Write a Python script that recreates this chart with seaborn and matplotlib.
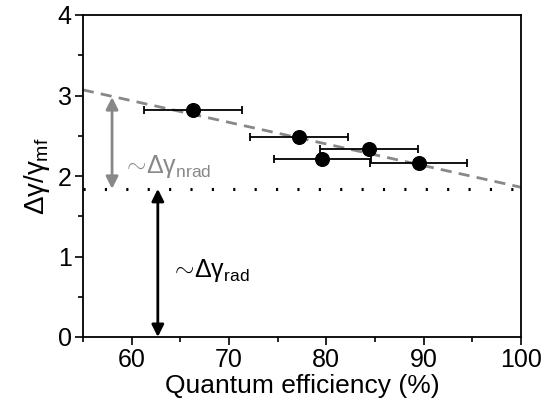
import matplotlib
matplotlib.use("Agg")
import matplotlib.pyplot as plt
import seaborn as sns
import pandas as pd
from matplotlib.ticker import MultipleLocator

# data
qe = [66.3, 77.2, 84.4, 79.6, 89.5]
ratio = [2.82, 2.48, 2.335, 2.21, 2.165]
qe_err = [5.0, 5.0, 5.0, 5.0, 5.0]

trend_x = [55, 100]
trend_y = [3.07, 1.86]
rad_level = 1.84
nrad_top = 2.98
nrad_x = 58.0
rad_x = 62.7

sns.set_style("ticks", {"axes.edgecolor": "black", "text.color": "black",
                        "xtick.color": "black", "ytick.color": "black",
                        "axes.labelcolor": "black"})
plt.rcParams["font.family"] = ["Liberation Sans", "DejaVu Sans"]
plt.rcParams["mathtext.fontset"] = "custom"
plt.rcParams["mathtext.rm"] = "Liberation Sans"
plt.rcParams["mathtext.it"] = "Liberation Sans"
plt.rcParams["mathtext.bf"] = "Liberation Sans:bold"

fig = plt.figure(figsize=(5.45, 4.0), dpi=100)
ax = fig.add_axes([0.152, 0.1575, 0.804, 0.805])

df = pd.DataFrame({"qe": qe, "ratio": ratio})

# dashed trend + dotted radiative level
sns.lineplot(x=trend_x, y=trend_y, ax=ax, color="#888888", lw=2,
             linestyle=(0, (4, 2.6)), zorder=1)
ax.axhline(rad_level, color="black", lw=2.2, linestyle=(0, (0.7, 6.3)), zorder=1)

# points with horizontal error bars
ax.errorbar(qe, ratio, xerr=qe_err, fmt="none", ecolor="black",
            elinewidth=1.3, capsize=2.7, capthick=1.3, zorder=2)
sns.scatterplot(data=df, x="qe", y="ratio", ax=ax, color="black", s=100,
                edgecolor="black", zorder=3, legend=False)

# arrows
ax.annotate("", xy=(nrad_x, nrad_top), xytext=(nrad_x, rad_level),
            arrowprops=dict(arrowstyle="<|-|>", color="#888888", lw=2,
                            mutation_scale=18, shrinkA=0, shrinkB=0))
ax.annotate("", xy=(rad_x, rad_level), xytext=(rad_x, 0),
            arrowprops=dict(arrowstyle="<|-|>", color="black", lw=2,
                            mutation_scale=18, shrinkA=0, shrinkB=0))

ax.text(59.0, 2.12, r"$\sim\!\Delta\gamma_{\mathrm{nrad}}$", color="#888888",
        fontsize=18, va="center", ha="left")
ax.text(64.0, 0.82, r"$\sim\!\Delta\gamma_{\mathrm{rad}}$", color="black",
        fontsize=18, va="center", ha="left")

ax.set_xlim(55, 100)
ax.set_ylim(0, 4)
ax.xaxis.set_major_locator(MultipleLocator(10))
ax.xaxis.set_minor_locator(MultipleLocator(5))
ax.yaxis.set_major_locator(MultipleLocator(1))
ax.yaxis.set_minor_locator(MultipleLocator(0.5))
ax.tick_params(which="major", length=6, width=1.2, labelsize=18,
               direction="out", pad=2)
ax.tick_params(which="minor", length=3.5, width=1.2, direction="out")
for s in ax.spines.values():
    s.set_visible(True)
    s.set_linewidth(1.3)
    s.set_color("black")

ax.set_xlabel("Quantum efficiency (%)", fontsize=19, labelpad=1)
ax.set_ylabel(r"$\Delta\gamma/\gamma_{\mathrm{mf}}$", fontsize=20, labelpad=4)

fig.savefig("out.png", dpi=100)
